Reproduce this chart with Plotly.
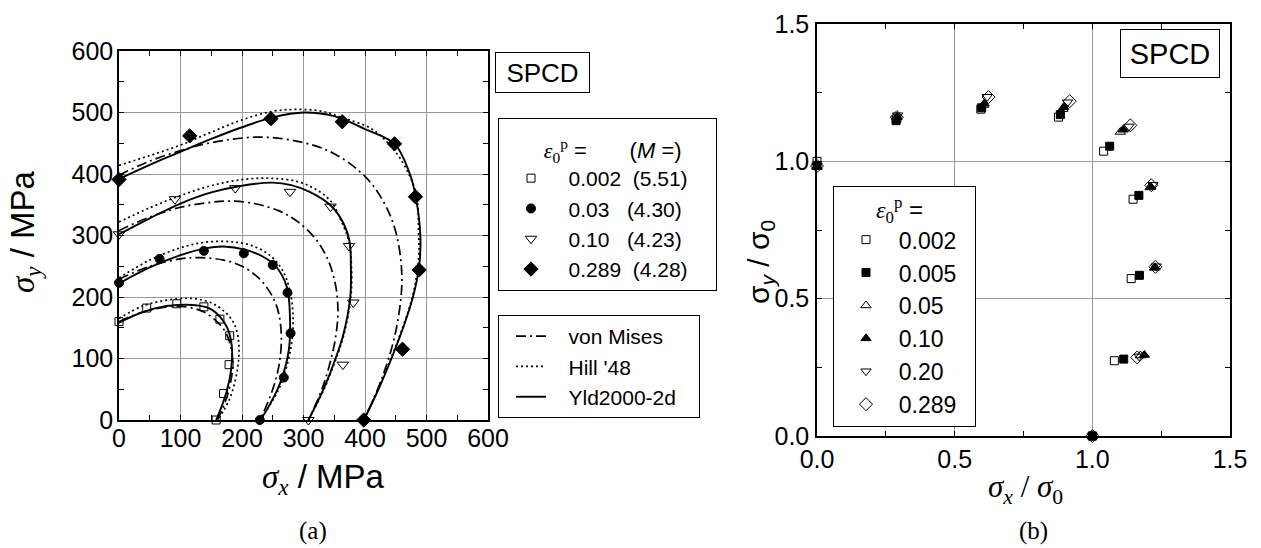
import plotly.graph_objects as go

W, H = 1261, 548

# ---------------- Panel (a): measured yield points (MPa) ----------------
a_names = ["0.002", "0.03", "0.10", "0.289"]
a_M = ["5.51", "4.30", "4.23", "4.28"]
pt_x_0002 = [0, 45, 94, 138, 164, 180, 179, 170, 158]
pt_y_0002 = [160, 182, 189, 184, 164, 137, 90, 43, 0]
pt_x_003 = [0, 66, 138, 203, 250, 274, 279, 268, 229]
pt_y_003 = [223, 262, 275, 271, 252, 207, 141, 69, 0]
pt_x_010 = [0, 91, 189, 278, 344, 374, 381, 364, 308]
pt_y_010 = [302, 359, 377, 371, 347, 283, 191, 90, 0]
pt_x_0289 = [0, 115, 247, 363, 448, 482, 488, 461, 398]
pt_y_0289 = [391, 462, 490, 485, 449, 363, 244, 115, 0]

# ---------------- Panel (a): model curves (MPa) ----------------
vm_x_0002 = [0, 40, 92, 130, 150, 170, 180, 185, 180, 170, 160]
vm_y_0002 = [160, 176, 185, 179, 168, 148, 126, 92, 54, 22, 0]
vm_x_003 = [0, 50, 100, 132, 170, 200, 229, 250, 260, 264, 260, 250, 240, 229]
vm_y_003 = [229, 250, 262, 264, 260, 250, 229, 200, 172, 132, 88, 50, 24, 0]
vm_x_010 = [0, 50, 100, 150, 178, 220, 260, 290, 320, 340, 352, 356, 353, 345, 330, 308]
vm_y_010 = [308, 330, 346, 354, 356, 352, 340, 323, 294, 260, 220, 178, 140, 100, 50, 0]
vm_x_0289 = [0, 50, 100, 150, 230, 300, 350, 400, 430, 450, 460, 450, 430, 410, 398]
vm_y_0289 = [398, 421, 438, 451, 460, 451, 433, 396, 355, 306, 230, 144, 75, 25, 0]

hill_x_0002 = [0, 40, 95, 125, 155, 178, 190, 195, 193, 182, 170, 160]
hill_y_0002 = [165, 186, 197, 197, 188, 170, 150, 120, 85, 40, 15, 0]
hill_x_003 = [0, 50, 100, 140, 180, 215, 245, 265, 278, 283, 280, 264, 246, 230]
hill_y_003 = [231, 260, 280, 289, 290, 284, 268, 245, 210, 167, 120, 60, 25, 0]
hill_x_010 = [0, 50, 100, 150, 200, 246, 289, 320, 345, 362, 374, 378, 377, 366, 352, 333, 308]
hill_y_010 = [322, 345, 365, 381, 391, 393, 388, 375, 355, 322, 290, 250, 200, 140, 97, 49, 0]
hill_x_0289 = [0, 50, 100, 150, 200, 250, 290, 330, 365, 413, 451, 473, 484, 487, 487, 477, 461, 442, 421, 398]
hill_y_0289 = [414, 430, 447, 468, 488, 502, 505, 502, 491, 472, 434, 396, 364, 310, 260, 200, 150, 100, 50, 0]

yld_x_0002 = [0, 30, 60, 95, 130, 150, 165, 176, 182, 184, 182, 176, 168, 158]
yld_y_0002 = [158, 172, 182, 187, 186, 180, 167, 150, 130, 110, 80, 50, 25, 0]
yld_x_003 = [0, 50, 100, 140, 170, 205, 235, 255, 273, 278, 276, 262, 245, 230]
yld_y_003 = [222, 248, 268, 279, 282, 277, 265, 250, 216, 167, 113, 60, 25, 0]
yld_x_010 = [0, 50, 100, 150, 200, 250, 280, 310, 343, 365, 375, 377, 376, 365, 351, 332, 308]
yld_y_010 = [302, 328, 352, 370, 381, 386, 382, 371, 350, 320, 290, 250, 200, 140, 97, 49, 0]
yld_x_0289 = [0, 50, 100, 150, 200, 250, 300, 350, 400, 448, 473, 483, 490, 488, 478, 462, 443, 422, 398]
yld_y_0289 = [392, 415, 436, 457, 476, 492, 500, 494, 473, 449, 400, 360, 300, 250, 200, 150, 100, 50, 0]

# ---------------- Panel (b): normalised points ----------------
b_names = ["0.002", "0.005", "0.05", "0.10", "0.20", "0.289"]
b_x_0002 = [0, 0.290, 0.595, 0.877, 1.041, 1.148, 1.141, 1.080, 1.0]
b_y_0002 = [1.000, 1.155, 1.190, 1.161, 1.037, 0.862, 0.573, 0.274, 0]
b_x_0005 = [0, 0.287, 0.598, 0.884, 1.063, 1.169, 1.171, 1.114, 1.0]
b_y_0005 = [0.985, 1.148, 1.195, 1.170, 1.055, 0.876, 0.585, 0.280, 0]
b_x_005 = [0, 0.290, 0.605, 0.893, 1.102, 1.210, 1.225, 1.175, 1.0]
b_y_005 = [0.980, 1.160, 1.205, 1.190, 1.107, 0.905, 0.612, 0.293, 0]
b_x_010 = [0, 0.291, 0.607, 0.896, 1.112, 1.212, 1.228, 1.189, 1.0]
b_y_010 = [0.980, 1.162, 1.210, 1.197, 1.115, 0.908, 0.614, 0.295, 0]
b_x_020 = [0, 0.293, 0.618, 0.910, 1.133, 1.220, 1.232, 1.170, 1.0]
b_y_020 = [0.985, 1.168, 1.235, 1.215, 1.127, 0.915, 0.618, 0.290, 0]
b_x_0289 = [0, 0.290, 0.623, 0.918, 1.138, 1.214, 1.229, 1.163, 1.0]
b_y_0289 = [0.983, 1.161, 1.234, 1.219, 1.131, 0.913, 0.616, 0.286, 0]

SANS = "Liberation Sans"
SERIF = "Liberation Serif"
NB = "\u00a0"

fig = go.Figure()

# ---- model curves (panel a)
models = [
    ("von Mises", "10px,4px,2px,4px",
     [(vm_x_0002, vm_y_0002), (vm_x_003, vm_y_003), (vm_x_010, vm_y_010), (vm_x_0289, vm_y_0289)]),
    ("Hill '48", "2px,3px",
     [(hill_x_0002, hill_y_0002), (hill_x_003, hill_y_003), (hill_x_010, hill_y_010), (hill_x_0289, hill_y_0289)]),
    ("Yld2000-2d", "solid",
     [(yld_x_0002, yld_y_0002), (yld_x_003, yld_y_003), (yld_x_010, yld_y_010), (yld_x_0289, yld_y_0289)]),
]
for name, dash, curves in models:
    for i, (cx, cy) in enumerate(curves):
        fig.add_trace(go.Scatter(
            x=cx, y=cy, mode="lines", xaxis="x", yaxis="y",
            line=dict(color="black", width=1.9 if dash == "solid" else 1.7, dash=dash,
                      shape="spline", smoothing=1.0),
            name=NB * 3 + name + NB * 3, legend="legend2", legendgroup=name,
            showlegend=(i == 0), hoverinfo="skip"))

# ---- measured points (panel a)
a_sets = [(pt_x_0002, pt_y_0002, "square-open", 8),
          (pt_x_003, pt_y_003, "circle", 9),
          (pt_x_010, pt_y_010, "triangle-down-open", 10),
          (pt_x_0289, pt_y_0289, "diamond", 11)]
a_pad = [2, 3, 3, 2]
for (px_, py_, sym, sz), nm, M, pad in zip(a_sets, a_names, a_M, a_pad):
    fig.add_trace(go.Scatter(
        x=px_, y=py_, mode="markers", xaxis="x", yaxis="y", cliponaxis=False,
        marker=dict(symbol=sym, size=sz, color="black", line=dict(color="black", width=1)),
        name=NB * 3 + nm + NB * pad + "(" + M + ")" + NB * 4, legend="legend"))

# ---- panel b points
b_sets = [(b_x_0002, b_y_0002, "square-open", 8),
          (b_x_0005, b_y_0005, "square", 8),
          (b_x_005, b_y_005, "triangle-up-open", 9),
          (b_x_010, b_y_010, "triangle-up", 9),
          (b_x_020, b_y_020, "triangle-down-open", 9),
          (b_x_0289, b_y_0289, "diamond-open", 10)]
for (bx, by, sym, sz), nm in zip(b_sets, b_names):
    fig.add_trace(go.Scatter(
        x=bx, y=by, mode="markers", xaxis="x2", yaxis="y2", cliponaxis=False,
        marker=dict(symbol=sym, size=sz, color="black", line=dict(color="black", width=1)),
        name=NB * 2 + nm + NB * 2, legend="legend3"))


def axis(domain, rng, dtick, minor, anchor, fmt=None, standoff=4):
    d = dict(domain=domain, range=rng, dtick=dtick, tick0=0, anchor=anchor,
             automargin=False,
             showline=True, linecolor="black", linewidth=1.5, mirror="allticks",
             ticks="inside", ticklen=5, tickwidth=1, tickcolor="black",
             showgrid=True, gridcolor="#9a9a9a", gridwidth=1, zeroline=False,
             tickfont=dict(family=SANS, size=25, color="black"),
             ticklabelstandoff=standoff,
             minor=dict(dtick=minor, tick0=0, ticks="inside", ticklen=5, tickcolor="black",
                        showgrid=False))
    if fmt:
        d["tickformat"] = fmt
    return d


def px2x(p):
    return p / W


def px2y(p):
    return 1 - p / H


legend_common = dict(bgcolor="white", bordercolor="black", borderwidth=1,
                     xanchor="left", yanchor="top", tracegroupgap=0, indentation=12,
                     itemclick=False, itemdoubleclick=False)

eps = '<span style="font-family:Liberation Serif"><i>ε</i><sub>0</sub><sup>p</sup></span>'

fig.update_layout(
    width=W, height=H,
    margin=dict(l=0, r=0, t=0, b=0, autoexpand=False),
    paper_bgcolor="white", plot_bgcolor="white",
    xaxis=axis([px2x(119), px2x(488)], [0, 600], 100, 50, "y", standoff=-5),
    yaxis=axis([px2y(420), px2y(51)], [0, 600], 100, 50, "x", standoff=-1),
    xaxis2=axis([px2x(817), px2x(1230)], [0, 1.5], 0.5, 0.25, "y2", ".1f", 0),
    yaxis2=axis([px2y(436), px2y(24)], [0, 1.5], 0.5, 0.25, "x2", ".1f", 1),
    legend=dict(x=px2x(498), y=px2y(118), font=dict(family=SANS, size=21, color="black"),
                title=dict(text='<span style="font-size:22px">' + NB * 7 + eps + ' ='
                           + NB * 7 + '(<i>M</i> =)</span>',
                           font=dict(family=SANS, size=30, color="black"), side="top"),
                **legend_common),
    legend2=dict(x=px2x(498), y=px2y(315), font=dict(family=SANS, size=21, color="black"),
                 **legend_common),
    legend3=dict(x=px2x(833), y=px2y(186), font=dict(family=SANS, size=23, color="black"),
                 title=dict(text=NB * 6 + eps + ' =',
                            font=dict(family=SANS, size=24, color="black"), side="top"),
                 **legend_common),
    showlegend=True,
)

ann = []
# axis titles
ann.append(dict(x=px2x(25), y=px2y(232), textangle=-90,
                text='<span style="font-family:Liberation Serif"><i>σ<sub>y</sub></i></span> / MPa',
                font=dict(family=SANS, size=33, color="black")))
ann.append(dict(x=px2x(324), y=px2y(479),
                text='<span style="font-family:Liberation Serif"><i>σ<sub>x</sub></i></span> / MPa',
                font=dict(family=SANS, size=33, color="black")))
ann.append(dict(x=px2x(760), y=px2y(262), textangle=-90,
                text='σ<sub><i>y</i></sub> / σ<sub>0</sub>',
                font=dict(family=SANS, size=30, color="black")))
ann.append(dict(x=px2x(1025), y=px2y(489),
                text='<i>σ<sub>x</sub></i> / <i>σ</i><sub>0</sub>',
                font=dict(family=SERIF, size=31, color="black")))
# captions
ann.append(dict(x=px2x(313), y=px2y(531), text="(a)",
                font=dict(family=SERIF, size=25, color="black")))
ann.append(dict(x=px2x(1033), y=px2y(531), text="(b)",
                font=dict(family=SERIF, size=25, color="black")))
# SPCD boxes
ann.append(dict(x=px2x(542.5), y=px2y(72.5), text="SPCD", width=93, height=39,
                bordercolor="black", borderwidth=1, borderpad=0, bgcolor="white",
                font=dict(family=SANS, size=26, color="black")))
ann.append(dict(x=px2x(1170), y=px2y(53.5), text="SPCD", width=98, height=47,
                bordercolor="black", borderwidth=1, borderpad=0, bgcolor="white",
                font=dict(family=SANS, size=29, color="black")))
for a in ann:
    a.update(xref="paper", yref="paper", showarrow=False, xanchor="center", yanchor="middle")
fig.update_layout(annotations=ann)

fig.write_html("out.html", config={"displayModeBar": False},
               post_script="document.body.style.margin='0';document.body.style.overflow='hidden';")
